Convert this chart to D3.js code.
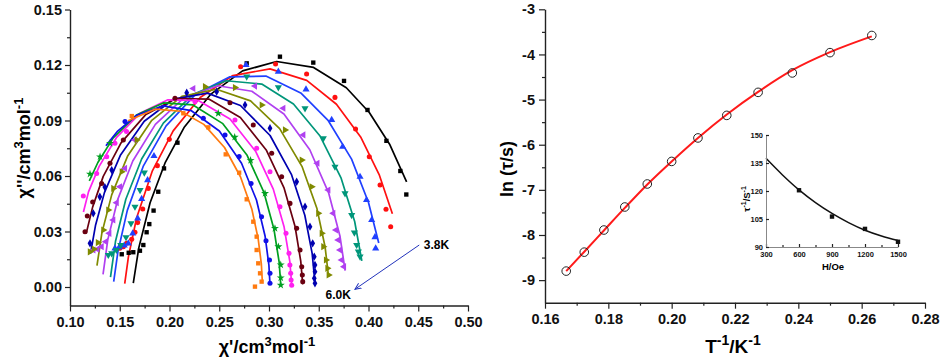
<!DOCTYPE html>
<html>
<head>
<meta charset="utf-8">
<script src="https://cdn.jsdelivr.net/npm/d3@7"></script>
<style>
  body { margin: 0; background: #fff; }
  svg { display: block; font-family: "Liberation Sans", Arial, sans-serif; font-weight: bold; }
  .axis path, .axis line { stroke: #222; }
  .axis path { stroke-width: 1.4; }
  .axis line { stroke-width: 1.2; }
  .axis text { fill: #111; font-weight: bold; }
</style>
</head>
<body>
<div id="container"></div>
<script>
// ---- left panel: Cole-Cole plots, 3.8K ... 6.0K
var temps = ["3.8K", "4.0K", "4.2K", "4.4K", "4.6K", "4.8K", "5.0K", "5.2K", "5.4K", "5.6K", "5.8K", "6.0K"];

// fitted curves [chi', chi'']
var fit38 = [[0.4383,0.0568],[0.4212,0.0772],[0.4008,0.0943],[0.3777,0.1077],[0.3448,0.1187],[0.3077,0.1219],[0.2734,0.1168],[0.2412,0.1041],[0.2146,0.0862],[0.1958,0.0674],[0.1805,0.0455],[0.1692,0.0213],[0.1636,0.0021]];
var fit40 = [[0.424,0.0396],[0.4107,0.0608],[0.3921,0.0811],[0.3678,0.0988],[0.3379,0.1117],[0.301,0.1179],[0.2637,0.1143],[0.2308,0.1024],[0.2037,0.0844],[0.1828,0.0628],[0.1669,0.0373],[0.1587,0.0163],[0.155,0.0018]];
var fit42 = [[0.4103,0.0238],[0.400,0.0457],[0.383,0.0691],[0.3596,0.0899],[0.3319,0.1049],[0.2969,0.114],[0.2607,0.1136],[0.2258,0.104],[0.1966,0.0871],[0.1738,0.0655],[0.1576,0.0414],[0.1482,0.0192],[0.1439,0.0029]];
var fit44 = [[0.3933,0.0141],[0.3861,0.0354],[0.3725,0.0588],[0.3511,0.0818],[0.3246,0.0989],[0.2927,0.1097],[0.2568,0.1115],[0.2238,0.1042],[0.1938,0.0886],[0.172,0.0692],[0.1561,0.0474],[0.1458,0.0249],[0.1407,0.0053]];
var fit46 = [[0.3765,0.0089],[0.3713,0.0276],[0.3599,0.0509],[0.341,0.0742],[0.315,0.0935],[0.2828,0.1058],[0.2485,0.1088],[0.2147,0.1023],[0.1858,0.0879],[0.1631,0.0681],[0.1479,0.0472],[0.138,0.0256],[0.1332,0.0068]];
var fit48 = [[0.3599,0.0054],[0.3564,0.0216],[0.3481,0.0426],[0.3334,0.0649],[0.3107,0.0856],[0.2815,0.1006],[0.2471,0.1069],[0.2124,0.103],[0.1822,0.0901],[0.1581,0.071],[0.1419,0.0498],[0.1321,0.0294],[0.1271,0.0115]];
var fit50 = [[0.3462,0.0022],[0.3434,0.018],[0.336,0.0388],[0.3225,0.0609],[0.3011,0.0819],[0.2713,0.0981],[0.238,0.1048],[0.2042,0.1016],[0.1746,0.0896],[0.1508,0.0714],[0.1346,0.051],[0.1256,0.0332],[0.1206,0.018]];
var fit52 = [[0.3339,0.0014],[0.3319,0.014],[0.3262,0.0327],[0.3152,0.0534],[0.2972,0.0741],[0.2712,0.0916],[0.2395,0.1016],[0.2064,0.1019],[0.1763,0.0933],[0.1513,0.0779],[0.1334,0.0598],[0.1228,0.0433],[0.1163,0.029]];
var fit54 = [[0.3228,0.0014],[0.3209,0.0139],[0.3152,0.0324],[0.3043,0.0529],[0.2865,0.0734],[0.2608,0.0908],[0.2294,0.1007],[0.1984,0.1012],[0.1703,0.0939],[0.1466,0.0807],[0.1293,0.0652],[0.1186,0.0514],[0.1135,0.0405]];
var fit56 = [[0.3118,0.0013],[0.3102,0.0134],[0.305,0.0312],[0.2948,0.0513],[0.278,0.0712],[0.2536,0.0883],[0.2236,0.0984],[0.1938,0.0995],[0.1667,0.0929],[0.1435,0.0806],[0.128,0.0673],[0.1194,0.0574]];
var fit58 = [[0.301,0.0012],[0.2999,0.0118],[0.2961,0.0274],[0.2874,0.047],[0.2724,0.0669],[0.2501,0.0843],[0.222,0.0953],[0.1937,0.0979],[0.1675,0.093],[0.1479,0.0843],[0.1361,0.0764]];
var fit60 = [[0.2933,0.003],[0.2923,0.0125],[0.2891,0.0261],[0.2827,0.0422],[0.2713,0.0596],[0.2553,0.0754],[0.2345,0.0879],[0.2113,0.095],[0.1853,0.0961],[0.1584,0.0899]];

// measured points [chi', chi'']
var pts38 = [[0.438,0.050],[0.432,0.0627],[0.418,0.079],[0.399,0.0957],[0.3754,0.1114],[0.3445,0.1213],[0.311,0.1245],[0.2776,0.1209],[0.208,0.078],[0.1945,0.0641],[0.1887,0.0515],[0.184,0.0413],[0.1797,0.034],[0.177,0.0296],[0.1737,0.0227],[0.1703,0.0196],[0.1636,0.0188],[0.159,0.0185],[0.152,0.0177]];
var pts40 = [[0.4223,0.0326],[0.4176,0.042],[0.4116,0.0551],[0.4008,0.0704],[0.387,0.0854],[0.3663,0.1025],[0.3378,0.1151],[0.3066,0.1205],[0.2715,0.119],[0.1998,0.0798],[0.1878,0.0656],[0.1787,0.0533],[0.1731,0.0422],[0.168,0.0348],[0.1653,0.0296],[0.162,0.0258],[0.157,0.0236],[0.1536,0.0218],[0.150,0.021]];
var pts42 = [[0.4072,0.0209],[0.4065,0.0269],[0.4032,0.0362],[0.398,0.047],[0.3915,0.0596],[0.374,0.0758],[0.363,0.0903],[0.3372,0.1068],[0.3094,0.1164],[0.2769,0.12],[0.1844,0.0708],[0.178,0.0578],[0.172,0.0476],[0.168,0.0371],[0.163,0.029],[0.1586,0.0236],[0.1545,0.0224],[0.1495,0.0215],[0.1452,0.0209]];
var pts44 = [[0.3915,0.0164],[0.3898,0.0191],[0.3881,0.0227],[0.3858,0.0294],[0.3831,0.0389],[0.3764,0.0506],[0.3663,0.065],[0.3546,0.0804],[0.3362,0.0966],[0.3094,0.1079],[0.2776,0.1137],[0.1747,0.0618],[0.1704,0.0524],[0.1653,0.0434],[0.1613,0.0344],[0.1563,0.0269],[0.151,0.0227],[0.1466,0.02],[0.1419,0.0182],[0.1385,0.0173]];
var pts46 = [[0.3754,0.011],[0.373,0.0146],[0.3714,0.02],[0.3696,0.0254],[0.3673,0.0308],[0.3646,0.0398],[0.3596,0.0524],[0.3486,0.0669],[0.3345,0.0822],[0.3144,0.0966],[0.2859,0.1086],[0.2239,0.1073],[0.1653,0.0795],[0.1553,0.0641],[0.1502,0.0542],[0.1469,0.0456],[0.1435,0.0362],[0.1395,0.029],[0.136,0.0245],[0.1318,0.0218],[0.1275,0.0204],[0.1235,0.02]];
var pts48 = [[0.36,0.0065],[0.3587,0.0101],[0.3573,0.0146],[0.3546,0.0218],[0.353,0.029],[0.3495,0.0398],[0.3429,0.0542],[0.3329,0.0686],[0.3161,0.0849],[0.2927,0.0984],[0.2658,0.1078],[0.2357,0.1083],[0.167,0.0795],[0.152,0.0623],[0.1435,0.0533],[0.1385,0.0416],[0.1335,0.0308],[0.128,0.024],[0.124,0.0205],[0.12,0.019]];
var pts50 = [[0.3462,0.002],[0.3455,0.0047],[0.3462,0.0083],[0.3462,0.0119],[0.3455,0.0164],[0.3439,0.0236],[0.3412,0.0326],[0.3362,0.0434],[0.3278,0.0569],[0.301,0.0858],[0.2759,0.0984],[0.2474,0.1056],[0.2173,0.105],[0.1419,0.0632],[0.135,0.054],[0.13,0.0488],[0.1234,0.0398],[0.1201,0.0236]];
var pts52 = [[0.3339,0.0029],[0.3335,0.0065],[0.3329,0.011],[0.3312,0.02],[0.3278,0.0317],[0.3211,0.0452],[0.3127,0.0596],[0.3027,0.0723],[0.2842,0.0876],[0.2608,0.0996],[0.2055,0.102],[0.1536,0.0795],[0.1402,0.0669],[0.1318,0.056],[0.1228,0.046],[0.1174,0.0384],[0.1151,0.0299]];
var pts54 = [[0.3228,0.001],[0.3222,0.0038],[0.3218,0.0074],[0.321,0.0119],[0.3201,0.0182],[0.3171,0.029],[0.311,0.0434],[0.301,0.0623],[0.2876,0.075],[0.2658,0.0903],[0.2256,0.1002],[0.1568,0.084],[0.1452,0.0777],[0.1369,0.0704],[0.1268,0.0614],[0.1134,0.0492]];
var pts56 = [[0.3118,0.001],[0.3118,0.005],[0.3118,0.012],[0.3094,0.0218],[0.306,0.0317],[0.296,0.0506],[0.2815,0.0685],[0.2655,0.081],[0.249,0.0939],[0.1402,0.0777],[0.1302,0.0704],[0.1201,0.0611]];
var pts58 = [[0.301,0.002],[0.301,0.0074],[0.3005,0.0146],[0.297,0.025],[0.2925,0.038],[0.282,0.056],[0.27,0.0705],[0.2558,0.0822],[0.234,0.0912],[0.1553,0.0894]];
var pts60 = [[0.2859,0.0002],[0.2926,0.0029],[0.291,0.0074],[0.2892,0.0128],[0.2876,0.02],[0.2876,0.0272],[0.2842,0.0353],[0.2776,0.0474],[0.27,0.0618],[0.2565,0.0717],[0.239,0.0863],[0.2139,0.0939],[0.1621,0.0924]];

var fits = [fit38, fit40, fit42, fit44, fit46, fit48, fit50, fit52, fit54, fit56, fit58, fit60];
var pts = [pts38, pts40, pts42, pts44, pts46, pts48, pts50, pts52, pts54, pts56, pts58, pts60];

var xLTicks = [0.10, 0.15, 0.20, 0.25, 0.30, 0.35, 0.40, 0.45, 0.50];
var xLMinor = [0.125, 0.175, 0.225, 0.275, 0.325, 0.375, 0.425, 0.475];
var yLTicks = [0.00, 0.03, 0.06, 0.09, 0.12, 0.15];
var yLMinor = [0.015, 0.045, 0.075, 0.105, 0.135];

// ---- right panel: ln(tau) vs 1/T
var invT = [0.1667, 0.1724, 0.1786, 0.1852, 0.1923, 0.2000, 0.2083, 0.2174, 0.2273, 0.2381, 0.2500, 0.2632];
var lnTau = [-8.80, -8.38, -7.89, -7.38, -6.87, -6.37, -5.85, -5.35, -4.84, -4.41, -3.96, -3.58];
var lnTauFit = [-8.80, -8.37, -7.90, -7.40, -6.88, -6.37, -5.85, -5.33, -4.83, -4.35, -3.95, -3.60];

var xRTicks = [0.16, 0.18, 0.20, 0.22, 0.24, 0.26, 0.28];
var xRMinor = [0.17, 0.19, 0.21, 0.23, 0.25, 0.27];
var yRTicks = [-9, -8, -7, -6, -5, -4, -3];
var yRMinor = [-8.5, -7.5, -6.5, -5.5, -4.5, -3.5];

// ---- inset: 1/tau vs H
var fieldH = [600, 900, 1200, 1500];
var rate = [120.4, 106.3, 99.7, 92.8];
var fieldFit = [300, 450, 600, 750, 900, 1050, 1200, 1350, 1500];
var rateFit = [137.5, 128.6, 120.6, 113.8, 108.0, 103.1, 99.0, 95.9, 93.5];
var xITicks = [300, 600, 900, 1200, 1500];
var xIMinor = [450, 750, 1050, 1350];
var yITicks = [90, 105, 120, 135, 150];

// styles
var colors = ["#000000", "#ff1010", "#2040ff", "#00967a", "#b040f0", "#808a00",
              "#0000b0", "#6a0010", "#ff20f0", "#00a020", "#1010e8", "#ff7a10"];
var shapes = [
  {t: d3.symbolSquare, rot: 0, size: 19},
  {t: d3.symbolCircle, rot: 0, size: 20},
  {t: d3.symbolTriangle, rot: 0, size: 22},
  {t: d3.symbolTriangle, rot: 180, size: 22},
  {t: d3.symbolTriangle, rot: -90, size: 22},
  {t: d3.symbolTriangle, rot: 90, size: 22},
  {t: d3.symbolDiamond, rot: 0, size: 20},
  {t: d3.symbolCircle, rot: 0, size: 20},
  {t: d3.symbolCircle, rot: 0, size: 20},
  {t: d3.symbolStar, rot: 0, size: 20},
  {t: d3.symbolCircle, rot: 0, size: 20},
  {t: d3.symbolSquare, rot: 0, size: 19}
];

var W = 941, H = 361;

var svg = d3.select("#container").append("svg")
    .attr("width", W)
    .attr("height", H);

// scales
var xL = d3.scaleLinear().domain([0.10, 0.50]).range([70, 468]);
var yL = d3.scaleLinear().domain([-0.01, 0.15]).range([305.5, 9.5]);
var xR = d3.scaleLinear().domain([0.16, 0.28]).range([545, 925]);
var yR = d3.scaleLinear().domain([-9.5, -3]).range([302.7, 9.3]);
var xI = d3.scaleLinear().domain([300, 1500]).range([766, 898]);
var yI = d3.scaleLinear().domain([90, 150]).range([247, 135]);

var fmt2 = d3.format(".2f");
function intFmt(d) { return String(d); }

function addAxis(g, axis, fontSize) {
  g.attr("class", "axis").call(axis);
  g.selectAll("text").style("font-size", fontSize + "px");
  return g;
}
function addMinor(g, axis) {
  g.attr("class", "axis").call(axis);
  g.select(".domain").remove();
  return g;
}

// ===== left panel
var left = svg.append("g");

var lineL = d3.line()
  .x(function(d) { return xL(d[0]); })
  .y(function(d) { return yL(d[1]); });

fits.forEach(function(f, i) {
  left.append("path")
    .datum(f)
    .attr("d", lineL)
    .attr("fill", "none")
    .attr("stroke", colors[i])
    .attr("stroke-width", 1.7)
    .attr("stroke-linejoin", "round");
});

pts.forEach(function(p, i) {
  var sh = shapes[i];
  left.selectAll(".pt" + i)
    .data(p)
    .enter()
    .append("path")
      .attr("class", "pt" + i)
      .attr("d", d3.symbol().type(sh.t).size(sh.size))
      .attr("transform", function(d) {
        return "translate(" + xL(d[0]) + "," + yL(d[1]) + ") rotate(" + sh.rot + ")";
      })
      .attr("fill", colors[i]);
});

addAxis(left.append("g").attr("transform", "translate(0," + yL(-0.01) + ")"),
  d3.axisBottom(xL).tickValues(xLTicks).tickFormat(fmt2).tickSize(6).tickPadding(5).tickSizeOuter(0), 14.5);
addMinor(left.append("g").attr("transform", "translate(0," + yL(-0.01) + ")"),
  d3.axisBottom(xL).tickValues(xLMinor).tickFormat("").tickSize(3));
addAxis(left.append("g").attr("transform", "translate(" + xL(0.10) + ",0)"),
  d3.axisLeft(yL).tickValues(yLTicks).tickFormat(fmt2).tickSize(5).tickPadding(3).tickSizeOuter(0), 14.5);
addMinor(left.append("g").attr("transform", "translate(" + xL(0.10) + ",0)"),
  d3.axisLeft(yL).tickValues(yLMinor).tickFormat("").tickSize(3));

// arrow 3.8K -> 6.0K
svg.append("defs").append("marker")
  .attr("id", "arr")
  .attr("viewBox", "0 0 10 10")
  .attr("refX", 9).attr("refY", 5)
  .attr("markerWidth", 7).attr("markerHeight", 7)
  .attr("orient", "auto")
  .append("path")
    .attr("d", "M0,1 L9,5 L0,9")
    .attr("fill", "none")
    .attr("stroke", "#2233bb")
    .attr("stroke-width", 1.4);

left.append("line")
  .attr("x1", xL(0.451)).attr("y1", yL(0.0227))
  .attr("x2", xL(0.3864)).attr("y2", yL(-0.0012))
  .attr("stroke", "#2233bb")
  .attr("stroke-width", 1)
  .attr("marker-end", "url(#arr)");

left.append("text")
  .attr("x", xL(0.4555)).attr("y", yL(0.0227) + 4)
  .style("font-size", "12px")
  .text(temps[0]);
left.append("text")
  .attr("x", xL(0.3695)).attr("y", yL(-0.0043) + 4)
  .attr("text-anchor", "middle")
  .style("font-size", "12px")
  .text(temps[11]);

// axis titles (left)
var tl = left.append("text")
  .attr("transform", "translate(30,148) rotate(-90)")
  .attr("text-anchor", "middle")
  .style("font-size", "18px");
tl.append("tspan").text("\u03c7''/cm");
tl.append("tspan").attr("dy", -7).style("font-size", "13px").text("3");
tl.append("tspan").attr("dy", 7).text("mol");
tl.append("tspan").attr("dy", -7).style("font-size", "13px").text("-1");

var bl = left.append("text")
  .attr("x", 267).attr("y", 353)
  .attr("text-anchor", "middle")
  .style("font-size", "18px");
bl.append("tspan").text("\u03c7'/cm");
bl.append("tspan").attr("dy", -7).style("font-size", "13px").text("3");
bl.append("tspan").attr("dy", 7).text("mol");
bl.append("tspan").attr("dy", -7).style("font-size", "13px").text("-1");

// ===== right panel
var right = svg.append("g");

var lineR = d3.line()
  .x(function(d, i) { return xR(invT[i]); })
  .y(function(d) { return yR(d); })
  .curve(d3.curveMonotoneX);

right.append("path")
  .datum(lnTauFit)
  .attr("d", lineR)
  .attr("fill", "none")
  .attr("stroke", "#ff1a1a")
  .attr("stroke-width", 2);

right.selectAll(".tau")
  .data(lnTau)
  .enter()
  .append("circle")
    .attr("class", "tau")
    .attr("cx", function(d, i) { return xR(invT[i]); })
    .attr("cy", function(d) { return yR(d); })
    .attr("r", 4.3)
    .attr("fill", "none")
    .attr("stroke", "#222")
    .attr("stroke-width", 1);

addAxis(right.append("g").attr("transform", "translate(0," + yR(-9.5) + ")"),
  d3.axisBottom(xR).tickValues(xRTicks).tickFormat(fmt2).tickSize(6).tickPadding(5).tickSizeOuter(0), 14.5);
addMinor(right.append("g").attr("transform", "translate(0," + yR(-9.5) + ")"),
  d3.axisBottom(xR).tickValues(xRMinor).tickFormat("").tickSize(3));
addAxis(right.append("g").attr("transform", "translate(" + xR(0.16) + ",0)"),
  d3.axisLeft(yR).tickValues(yRTicks).tickFormat(intFmt).tickSize(6).tickPadding(4).tickSizeOuter(0), 14.5);
addMinor(right.append("g").attr("transform", "translate(" + xR(0.16) + ",0)"),
  d3.axisLeft(yR).tickValues(yRMinor).tickFormat("").tickSize(3));

var tr = right.append("text")
  .attr("transform", "translate(513,169) rotate(-90)")
  .attr("text-anchor", "middle")
  .style("font-size", "18px");
tr.append("tspan").text("ln (");
tr.append("tspan").text("\u03c4");
tr.append("tspan").text("/s)");

var br = right.append("text")
  .attr("x", 733).attr("y", 353)
  .attr("text-anchor", "middle")
  .style("font-size", "19px");
br.append("tspan").text("T");
br.append("tspan").attr("dy", -8).style("font-size", "14px").text("-1");
br.append("tspan").attr("dy", 8).text("/K");
br.append("tspan").attr("dy", -8).style("font-size", "14px").text("-1");

// ===== inset
var inset = svg.append("g");

var lineI = d3.line()
  .x(function(d, i) { return xI(fieldFit[i]); })
  .y(function(d) { return yI(d); })
  .curve(d3.curveMonotoneX);

inset.append("path")
  .datum(rateFit)
  .attr("d", lineI)
  .attr("fill", "none")
  .attr("stroke", "#111")
  .attr("stroke-width", 1.5);

inset.selectAll(".rate")
  .data(rate)
  .enter()
  .append("rect")
    .attr("class", "rate")
    .attr("x", function(d, i) { return xI(fieldH[i]) - 2.2; })
    .attr("y", function(d) { return yI(d) - 2.2; })
    .attr("width", 4.4)
    .attr("height", 4.4)
    .attr("fill", "#111");

addAxis(inset.append("g").attr("transform", "translate(0," + yI(90) + ")"),
  d3.axisBottom(xI).tickValues(xITicks).tickFormat(intFmt).tickSize(-3).tickPadding(5).tickSizeOuter(0), 7.5);
addMinor(inset.append("g").attr("transform", "translate(0," + yI(90) + ")"),
  d3.axisBottom(xI).tickValues(xIMinor).tickFormat("").tickSize(-2));
addAxis(inset.append("g").attr("transform", "translate(" + xI(300) + ",0)"),
  d3.axisLeft(yI).tickValues(yITicks).tickFormat(intFmt).tickSize(-3).tickPadding(3).tickSizeOuter(0), 7.5);
inset.selectAll(".axis path").style("stroke-width", 1).style("stroke", "#888");

inset.append("text")
  .attr("x", 833).attr("y", 270)
  .attr("text-anchor", "middle")
  .style("font-size", "9.5px")
  .text("H/Oe");

var ti = inset.append("text")
  .attr("transform", "translate(750,199) rotate(-90)")
  .attr("text-anchor", "middle")
  .style("font-size", "9.5px");
ti.append("tspan").text("\u03c4");
ti.append("tspan").attr("dy", -4).style("font-size", "7px").text("-1");
ti.append("tspan").attr("dy", 4).text("/S");
ti.append("tspan").attr("dy", -4).style("font-size", "7px").text("-1");
</script>
</body>
</html>
